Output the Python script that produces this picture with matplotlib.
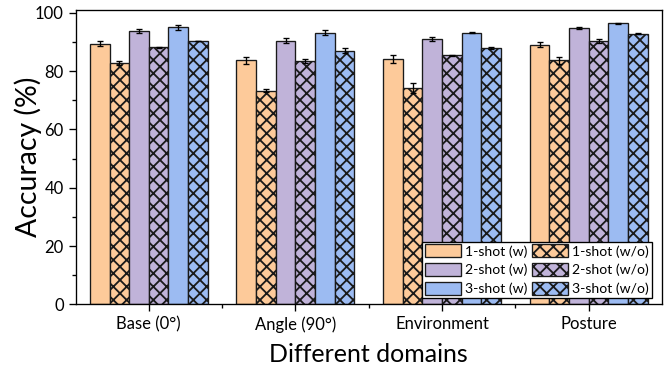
import numpy as np
import matplotlib
matplotlib.use("Agg")
import matplotlib.pyplot as plt
from matplotlib.patches import Patch
from matplotlib.ticker import MultipleLocator, FixedLocator

plt.rcParams['font.family'] = ['Lato', 'DejaVu Sans']
plt.rcParams['hatch.linewidth'] = 1.1

domains = ["Base (0°)", "Angle (90°)", "Environment", "Posture"]
series_labels = ["1-shot (w)", "1-shot (w/o)", "2-shot (w)", "2-shot (w/o)",
                 "3-shot (w)", "3-shot (w/o)"]

shot1_w = [89.5, 83.7, 84.2, 89.1]
shot1_wo = [82.8, 73.3, 74.2, 83.7]
shot2_w = [93.7, 90.5, 91.1, 94.7]
shot2_wo = [88.2, 83.5, 85.4, 90.4]
shot3_w = [95.0, 93.2, 93.2, 96.4]
shot3_wo = [90.3, 87.1, 88.0, 92.8]

err1_w = [1.0, 1.2, 1.3, 0.9]
err1_wo = [0.6, 0.6, 1.7, 1.3]
err2_w = [0.7, 0.8, 0.7, 0.3]
err2_wo = [0.2, 0.7, 0.3, 0.7]
err3_w = [0.9, 0.9, 0.2, 0.2]
err3_wo = [0.1, 1.0, 0.4, 0.2]

values = [shot1_w, shot1_wo, shot2_w, shot2_wo, shot3_w, shot3_wo]
errors = [err1_w, err1_wo, err2_w, err2_wo, err3_w, err3_wo]

orange = "#FDCA9A"
purple = "#C0B3D9"
blue = "#9CBBF2"
colors = [orange, orange, purple, purple, blue, blue]
hatches = [None, "xxx", None, "xxx", None, "xxx"]

DPI = 120
fig = plt.figure(figsize=(668 / DPI, 371 / DPI), dpi=DPI)
ax = fig.add_axes([75.5 / 668, 1 - 304.3 / 371, (662 - 75.5) / 668, (304.3 - 10) / 371])

x = np.arange(len(domains))
width = 0.134
for i, (vals, errs) in enumerate(zip(values, errors)):
    offset = (i - 2.5) * width
    ax.bar(x + offset, vals, width, color=colors[i], edgecolor="#1a1a1a",
           linewidth=0.8, hatch=hatches[i], zorder=2)
    ax.errorbar(x + offset, vals, yerr=errs, fmt="none", ecolor="black",
                elinewidth=0.8, capsize=2.0, capthick=0.8, zorder=3)

ax.set_xlim(-0.5, 3.5)
ax.set_ylim(0, 101)
ax.set_xticks(x)
ax.set_xticklabels(domains, fontsize=10)
ax.xaxis.set_minor_locator(FixedLocator([0.5, 1.5, 2.5]))
ax.yaxis.set_major_locator(MultipleLocator(20))
ax.yaxis.set_minor_locator(MultipleLocator(10))
ax.tick_params(axis="both", which="major", direction="out", length=4, width=0.8,
               labelsize=10, pad=3)
ax.tick_params(axis="both", which="minor", direction="out", length=2.2, width=0.8)
for sp in ax.spines.values():
    sp.set_linewidth(0.8)

ax.set_ylabel("Accuracy (%)", fontsize=17, labelpad=-4)
ax.set_xlabel("Different domains", fontsize=15, labelpad=6)

handles = []
for i in [0, 2, 4, 1, 3, 5]:
    handles.append(Patch(facecolor=colors[i], edgecolor="#1a1a1a", linewidth=0.8,
                         hatch=hatches[i], label=series_labels[i]))
leg = ax.legend(handles=handles, ncol=2, loc="lower right",
                bbox_to_anchor=(0.983, 0.021), borderaxespad=0, fontsize=8.4,
                frameon=True, fancybox=False, framealpha=1, edgecolor="black",
                handlelength=2.6, handleheight=1.05, handletextpad=0.3,
                columnspacing=0.3, labelspacing=0.4, borderpad=0.2)
leg.get_frame().set_linewidth(0.8)

fig.savefig("out.png", dpi=DPI)
